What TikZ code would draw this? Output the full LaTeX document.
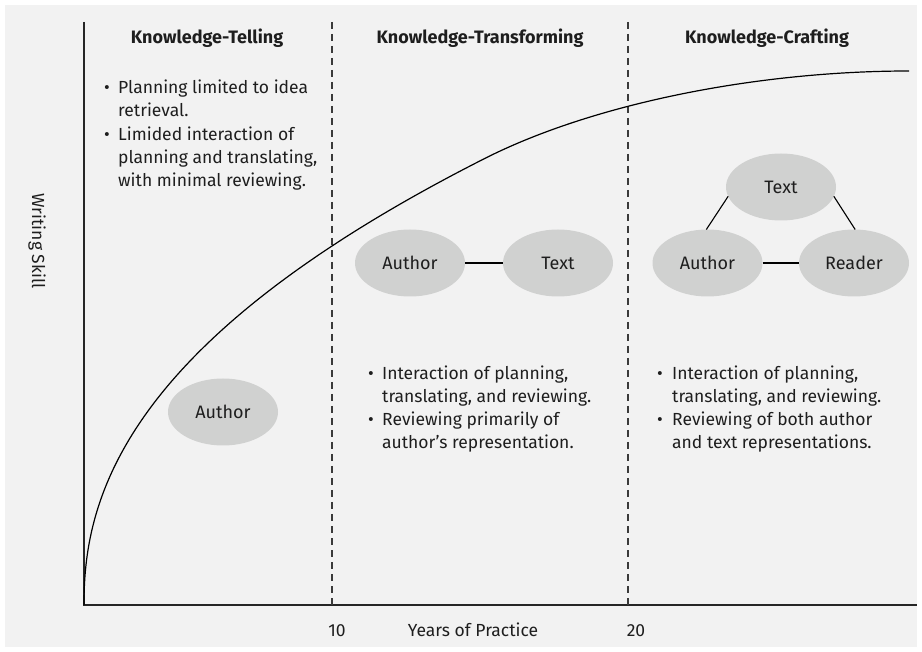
\documentclass[tikz,border=0pt]{standalone}
\usepackage{fontspec}
\setmainfont{Fira Sans}
\usetikzlibrary{shapes.geometric}
\definecolor{bggray}{HTML}{F2F2F2}
\definecolor{ellgray}{HTML}{D0D1D0}
\definecolor{dashgray}{HTML}{3A3A3A}
\definecolor{ink}{HTML}{1E1E1E}
\tikzset{
  oval/.style={ellipse, fill=ellgray, text=ink, minimum width=110pt, minimum height=67pt, inner sep=0pt, outer sep=0pt, font=\fontsize{18}{21}\selectfont},
  head/.style={anchor=base, text=ink, font=\bfseries\fontsize{18}{21}\selectfont},
  txt/.style={anchor=base west, text=ink, inner sep=0pt, font=\fontsize{17.5}{20}\selectfont},
  bul/.style={anchor=base, text=ink, inner sep=0pt, font=\fontsize{17.5}{20}\selectfont},
  axis/.style={line width=1.5pt, draw=black!85},
  divider/.style={line width=1.1pt, draw=dashgray, dash pattern=on 7pt off 5pt},
  link/.style={line width=1.1pt, draw=black},
  lbl/.style={anchor=base, text=ink, inner sep=0pt, font=\fontsize{17.5}{20}\selectfont}
}
\begin{document}
\begin{tikzpicture}[x=1pt,y=-1pt]
\useasboundingbox (0,0) rectangle (922,652);
\fill[bggray] (5,5) rectangle (917,647);

% axes
\coordinate (O) at (84,605);
\coordinate (Ytop) at (84,22);
\coordinate (Xend) at (917,605);
\draw[axis] (Ytop) -- (O) -- (Xend);

% dividers
\coordinate (d1t) at (332,22);
\coordinate (d1b) at (332,605);
\coordinate (d2t) at (628,22);
\coordinate (d2b) at (628,605);
\draw[divider] (d1t) -- (d1b);
\draw[divider] (d2t) -- (d2b);

% curve
\coordinate (cA) at (594,103);
\coordinate (cB) at (759,71);
\coordinate (cEnd) at (909,71);
\draw[line width=1.2pt, line join=round] (O) -- plot[variable=\t, domain=0.05:20, samples=120]
  ({84+\t*\t},{605-29.3*(\t^0.909)}) .. controls (cA) and (cB) .. (cEnd);

% axis labels
\node[lbl] (ten) at (337,636) {10};
\node[lbl] (xlab) at (473,636) {Years of Practice};
\node[lbl] (twenty) at (636,636) {20};
\node[anchor=center, rotate=-90, text=ink, font=\fontsize{17.5}{20}\selectfont] (ylab) at (37,241) {Writing Skill};

% headers
\node[head] (h1) at (207,44) {Knowledge-Telling};
\node[head] (h2) at (480,44) {Knowledge-Transforming};
\node[head] (h3) at (767,44) {Knowledge-Crafting};

% column 1 bullets
\node[bul] (b11) at (107,94) {•};
\node[txt] (c1l1) at (118,94) {Planning limited to idea};
\node[txt] (c1l2) at (118,117) {retrieval.};
\node[bul] (b12) at (107,141) {•};
\node[txt] (c1l3) at (118,141) {Limided interaction of};
\node[txt] (c1l4) at (118,164) {planning and translating,};
\node[txt] (c1l5) at (118,187) {with minimal reviewing.};

% column 2 bullets
\node[bul] (b21) at (371,380) {•};
\node[txt] (c2l1) at (382,380) {Interaction of planning,};
\node[txt] (c2l2) at (382,403) {translating, and reviewing.};
\node[bul] (b22) at (371,426) {•};
\node[txt] (c2l3) at (382,426) {Reviewing primarily of};
\node[txt] (c2l4) at (382,449) {author’s representation.};

% column 3 bullets
\node[bul] (b31) at (660,380) {•};
\node[txt] (c3l1) at (672,380) {Interaction of planning,};
\node[txt] (c3l2) at (672,403) {translating, and reviewing.};
\node[bul] (b32) at (660,426) {•};
\node[txt] (c3l3) at (672,426) {Reviewing of both author};
\node[txt] (c3l4) at (672,449) {and text representations.};

% ovals
\node[oval] (a1) at (223,412) {Author};
\node[oval] (a2) at (410,263) {Author};
\node[oval] (t2) at (558,263) {Text};
\node[oval] (t3) at (781,187) {Text};
\node[oval] (a3) at (707.5,263) {Author};
\node[oval] (r3) at (854,263) {Reader};

\draw[link] (a2.east) -- (t2.west);
\draw[link] (a3.east) -- (r3.west);
\draw[link] (t3.190) -- (a3.92);
\draw[link] (t3.-10) -- (r3.88);
\end{tikzpicture}
\end{document}
